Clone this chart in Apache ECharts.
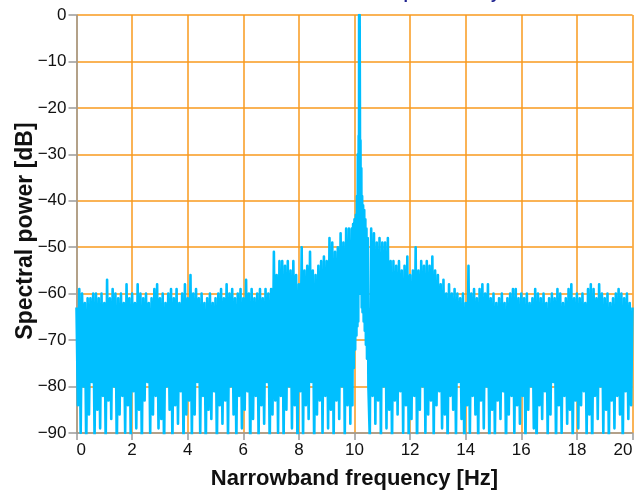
<!DOCTYPE html>
<html>
<head>
<meta charset="utf-8">
<title>Narrowband spectrum</title>
<script src="https://cdn.jsdelivr.net/npm/echarts@6/dist/echarts.min.js"></script>
<style>
  html, body { margin: 0; padding: 0; background: #fff; }
  #chart { width: 634px; height: 491px; }
</style>
</head>
<body>
<div id="chart"></div>
<script>
// frequency ticks / level ticks
const freqTicks = [0, 2, 4, 6, 8, 10, 12, 14, 16, 18, 20];
const dbTicks = [-90, -80, -70, -60, -50, -40, -30, -20, -10, 0];

// upper edge of the trace, one value per 0.1 Hz bin (0 .. 20 Hz)
const upperDb = [
  -63, -59, -60, -62, -61, -61, -60, -60, -61, -60,
  -62, -57, -61, -59, -60, -61, -60, -62, -58, -61,
  -60, -62, -58, -60, -61, -60, -62, -61, -59, -58,
  -61, -60, -62, -60, -59, -61, -59, -62, -60, -58,
  -61, -56, -60, -59, -61, -60, -62, -61, -60, -62,
  -61, -60, -59, -61, -58, -60, -59, -61, -60, -59,
  -61, -57, -60, -59, -61, -60, -59, -61, -59, -60,
  -59, -51, -56, -53, -53, -54, -53, -55, -53, -56,
  -58, -50, -55, -54, -51, -55, -56, -54, -53, -52,
  -53, -48, -49, -51, -50, -47, -49, -46, -46, -46,
  -45, -44, 0, -42, -44, -47, -46, -47, -49, -48,
  -49, -49, -48, -53, -53, -54, -53, -55, -54, -52,
  -56, -55, -50, -55, -53, -54, -53, -54, -52, -55,
  -56, -58, -57, -60, -58, -60, -59, -60, -61, -60,
  -62, -54, -60, -59, -61, -59, -58, -60, -58, -61,
  -60, -62, -61, -60, -62, -61, -60, -59, -59, -61,
  -60, -61, -60, -62, -61, -59, -60, -61, -60, -62,
  -61, -60, -61, -59, -60, -62, -61, -59, -58, -61,
  -60, -61, -60, -62, -59, -58, -59, -61, -58, -60,
  -61, -60, -62, -61, -60, -59, -60, -61, -60, -62,
  -63
];

// lower edge of the trace, one value per bin centre (0.05 .. 19.95 Hz)
const lowerDb = [
  -84, -90, -80, -93, -86, -79, -91, -85, -89, -82,
  -92, -83, -87, -80, -94, -86, -82, -90, -84, -91,
  -81, -89, -85, -93, -83, -79, -90, -86, -82, -89,
  -87, -94, -80, -85, -92, -84, -88, -81, -93, -86,
  -83, -91, -86, -79, -90, -82, -94, -85, -87, -81,
  -93, -84, -88, -83, -91, -80, -86, -92, -82, -89,
  -85, -81, -94, -87, -82, -91, -84, -88, -79, -93,
  -86, -83, -90, -82, -92, -85, -80, -89, -84, -94,
  -81, -91, -84, -87, -79, -93, -86, -83, -90, -82,
  -89, -85, -92, -83, -87, -80, -91, -84, -88, -75,
  -70, -66, -64, -68, -72, -91, -82, -88, -83, -92,
  -80, -89, -85, -93, -83, -86, -81, -90, -84, -92,
  -87, -82, -94, -85, -80, -90, -86, -83, -91, -84,
  -81, -89, -86, -93, -82, -85, -91, -79, -87, -94,
  -84, -90, -82, -86, -92, -83, -89, -80, -93, -85,
  -91, -83, -87, -81, -94, -86, -82, -90, -84, -88,
  -82, -92, -85, -80, -89, -94, -84, -87, -81, -91,
  -86, -79, -93, -84, -90, -82, -88, -85, -92, -83,
  -89, -84, -81, -91, -86, -94, -82, -87, -80, -90,
  -85, -92, -83, -89, -82, -86, -93, -81, -87, -84
];

// main lobe around the tone, finer spacing
const peakHz = [
  9.900, 9.925, 9.950, 9.975, 10.000, 10.025, 10.050, 10.070, 10.090, 10.105,
  10.120, 10.135, 10.150, 10.160, 10.165, 10.175, 10.185, 10.195, 10.205, 10.215,
  10.230, 10.245, 10.260, 10.275, 10.290, 10.310, 10.330, 10.350, 10.370, 10.390,
  10.410, 10.430, 10.450, 10.475, 10.500
];
const peakDb = [
  -46, -84, -45, -76, -44, -72, -43, -69, -39, -67,
  -30, -66, -26, -60, 0, -50, 0, -20, -55, -27,
  -60, -33, -63, -39, -64, -41, -66, -42, -68, -44,
  -71, -46, -74, -48, -80
];

const binStep = 0.1;
const peakFrom = 9.9, peakTo = 10.5;

function buildTrace () {
  let pts = [];
  upperDb.forEach((v, i) => {
    let f = +(i * binStep).toFixed(3);
    if (f < peakFrom - 1e-6 || f > peakTo + 1e-6) pts.push([f, v]);
    if (i < lowerDb.length) {
      let fl = +(f + binStep / 2).toFixed(3);
      if (fl < peakFrom - 1e-6 || fl > peakTo + 1e-6) pts.push([fl, lowerDb[i]]);
    }
  });
  peakHz.forEach((f, i) => pts.push([f, peakDb[i]]));
  pts.sort((a, b) => a[0] - b[0]);
  return pts;
}

const orange = '#F99A1E';
const axisGrey = '#9b9b9b';
const labelFont = 'Liberation Sans, Arial, Helvetica, sans-serif';

let myChart = echarts.init(document.getElementById('chart'), null, { renderer: 'canvas' });
let option = {
  animation: false,
  backgroundColor: '#fff',
  // title sits mostly above the canvas, only the descenders show
  graphic: [
    {
      type: 'text',
      x: 328,
      y: 3,
      style: {
        text: 'Zoomed spectrum of y',
        fill: '#1f2390',
        font: 'bold 16px ' + labelFont,
        verticalAlign: 'bottom'
      }
    }
  ],
  grid: { left: 76.5, right: 1.5, top: 15, bottom: 58, containLabel: false, outerBoundsMode: 'none' },
  xAxis: {
    type: 'value',
    min: freqTicks[0],
    max: freqTicks[freqTicks.length - 1],
    interval: freqTicks[1] - freqTicks[0],
    name: 'Narrowband frequency [Hz]',
    nameLocation: 'middle',
    nameGap: 35,
    nameMoveOverlap: false,
    nameTextStyle: { fontSize: 22, fontWeight: 'bold', color: '#111', fontFamily: labelFont },
    axisLine: { show: true, onZero: false, lineStyle: { color: axisGrey, width: 1.5 } },
    axisTick: { show: true, length: 7, lineStyle: { color: axisGrey, width: 1.5 } },
    axisLabel: {
      margin: 9, fontSize: 17, color: '#111', fontFamily: labelFont,
      alignMinLabel: 'left', alignMaxLabel: 'right'
    },
    splitLine: { show: true, lineStyle: { color: orange, width: 1.5 } }
  },
  yAxis: {
    type: 'value',
    min: dbTicks[0],
    max: dbTicks[dbTicks.length - 1],
    interval: dbTicks[1] - dbTicks[0],
    name: 'Spectral power [dB]',
    nameLocation: 'middle',
    nameGap: 39,
    nameMoveOverlap: false,
    nameTextStyle: {
      fontSize: 23, fontWeight: 'bold', color: '#111', fontFamily: labelFont,
      padding: [0, 14, 0, 0]
    },
    axisLine: { show: true, onZero: false, lineStyle: { color: axisGrey, width: 1.5 } },
    axisTick: { show: true, length: 8, lineStyle: { color: axisGrey, width: 1.5 } },
    axisLabel: {
      margin: 10, fontSize: 17, color: '#111', fontFamily: labelFont,
      formatter: v => String(v).replace('-', '\u2212')
    },
    splitLine: { show: true, lineStyle: { color: orange, width: 1.5 } }
  },
  series: [
    {
      type: 'line',
      data: buildTrace(),
      showSymbol: false,
      clip: true,
      lineStyle: { color: '#00BFFF', width: 2.6, join: 'round' },
      itemStyle: { color: '#00BFFF' }
    }
  ]
};
myChart.setOption(option);
</script>
</body>
</html>
